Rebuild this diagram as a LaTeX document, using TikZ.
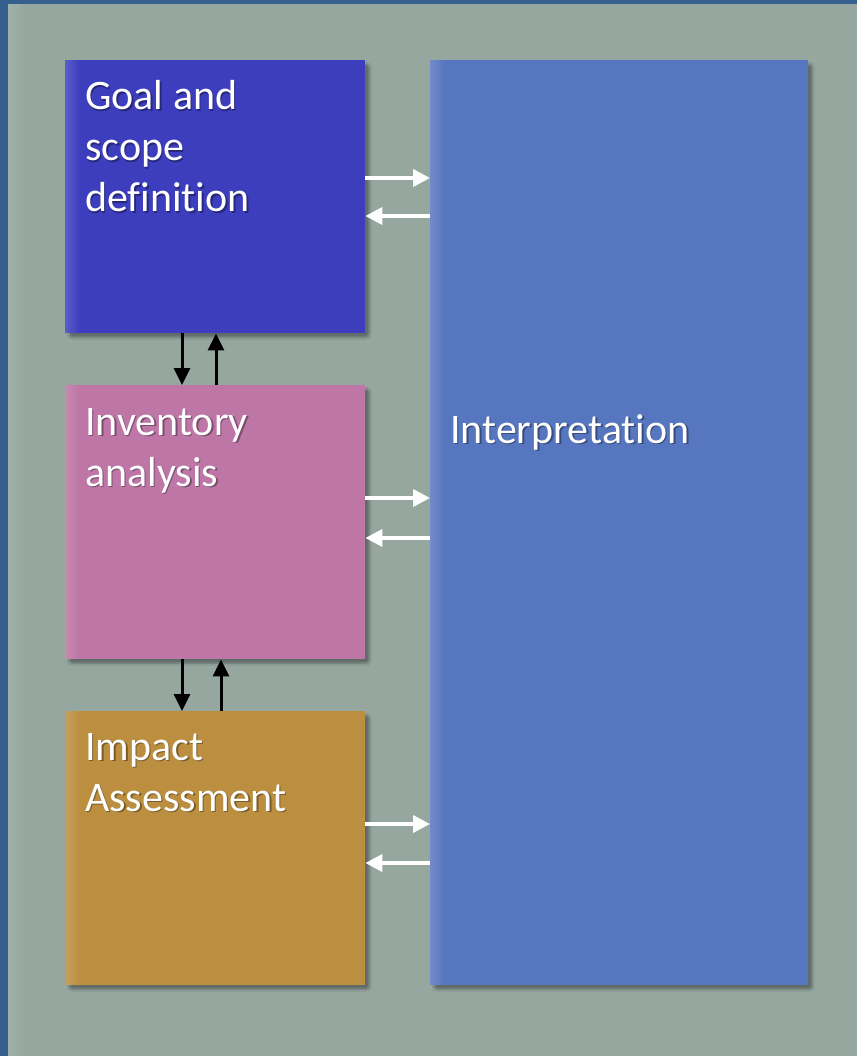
\documentclass[tikz,border=0pt]{standalone}
\usepackage{fontspec}
\setmainfont{Carlito}[Ligatures={NoCommon}]
\usetikzlibrary{arrows.meta,shadows.blur,calc}
\definecolor{bgc}{RGB}{150,167,160}
\definecolor{framec}{RGB}{52,95,143}
\definecolor{goalc}{RGB}{60,62,190}
\definecolor{invc}{RGB}{189,118,166}
\definecolor{impc}{RGB}{187,142,64}
\definecolor{intc}{RGB}{86,118,192}
\tikzset{
  box/.style={draw=none, rectangle, anchor=north west, inner sep=0pt,
    blur shadow={shadow xshift=4pt, shadow yshift=-4pt, shadow blur steps=8, shadow blur extra rounding=3pt, shadow opacity=35},
    path picture={\foreach \k in {1,...,10}{\fill[white, opacity=0.018] (path picture bounding box.north west) rectangle ([xshift=\k*1.4pt]path picture bounding box.south west);}},
    fill=#1},
  lbl/.style={anchor=base west, inner sep=0pt, align=left, text=white,
    font=\fontsize{42}{51}\selectfont},
  lblshadow/.style={lbl, text=black, opacity=0.35},
  warrow/.style={draw=white, line width=3.5pt, -{Triangle[length=17pt, width=17pt]}},
  barrow/.style={draw=black, line width=3pt, -{Triangle[length=17pt, width=16pt]}}
}
\begin{document}
\begin{tikzpicture}[x=1pt, y=-1pt]
\useasboundingbox (0,0) rectangle (857,1056);
\fill[framec] (0,0) rectangle (857,1056);
\fill[bgc] (8,4) rectangle (857,1056);
\foreach \k in {1,...,10}{\fill[white, opacity=0.015] (8,4) rectangle (8+\k*1.7,1056);}

\node[box=goalc, minimum width=300pt, minimum height=273pt] (goal) at (65,60) {};
\node[box=invc, minimum width=300pt, minimum height=274pt] (inv) at (65,385) {};
\node[box=impc, minimum width=300pt, minimum height=274pt] (imp) at (65,711) {};
\node[box=intc, minimum width=378pt, minimum height=925pt] (interp) at (430,60) {};

\node[lblshadow] (goalts) at (86.5,213.5) {Goal and\\scope\\definition};
\node[lbl] (goalt) at (85,212) {Goal and\\scope\\definition};
\node[lblshadow] (invts) at (86.5,487.5) {Inventory\\analysis};
\node[lbl] (invt) at (85,486) {Inventory\\analysis};
\node[lblshadow] (impts) at (86.5,812.5) {Impact\\Assessment};
\node[lbl] (impt) at (85,811) {Impact\\Assessment};
\node[lblshadow] (intts) at (451.5,444.5) {Interpretation};
\node[lbl] (intt) at (450,443) {Interpretation};

\coordinate (g1) at ($(goal.north east)+(0,118)$);
\coordinate (g2) at ($(goal.north east)+(0,156)$);
\coordinate (i1) at ($(inv.north east)+(0,113)$);
\coordinate (i2) at ($(inv.north east)+(0,153)$);
\coordinate (m1) at ($(imp.north east)+(0,113)$);
\coordinate (m2) at ($(imp.north east)+(0,152)$);

\draw[warrow] (g1) -- (interp.west |- g1);
\draw[warrow] (interp.west |- g2) -- (g2);
\draw[warrow] (i1) -- (interp.west |- i1);
\draw[warrow] (interp.west |- i2) -- (i2);
\draw[warrow] (m1) -- (interp.west |- m1);
\draw[warrow] (interp.west |- m2) -- (m2);

\coordinate (v1) at ($(goal.south west)+(117,0)$);
\coordinate (v2) at ($(goal.south west)+(151,0)$);
\coordinate (v3) at ($(inv.south west)+(117,0)$);
\coordinate (v4) at ($(inv.south west)+(156,0)$);
\draw[barrow] (v1) -- (v1 |- inv.north);
\draw[barrow] (v2 |- inv.north) -- (v2);
\draw[barrow] (v3) -- (v3 |- imp.north);
\draw[barrow] (v4 |- imp.north) -- (v4);
\end{tikzpicture}
\end{document}
